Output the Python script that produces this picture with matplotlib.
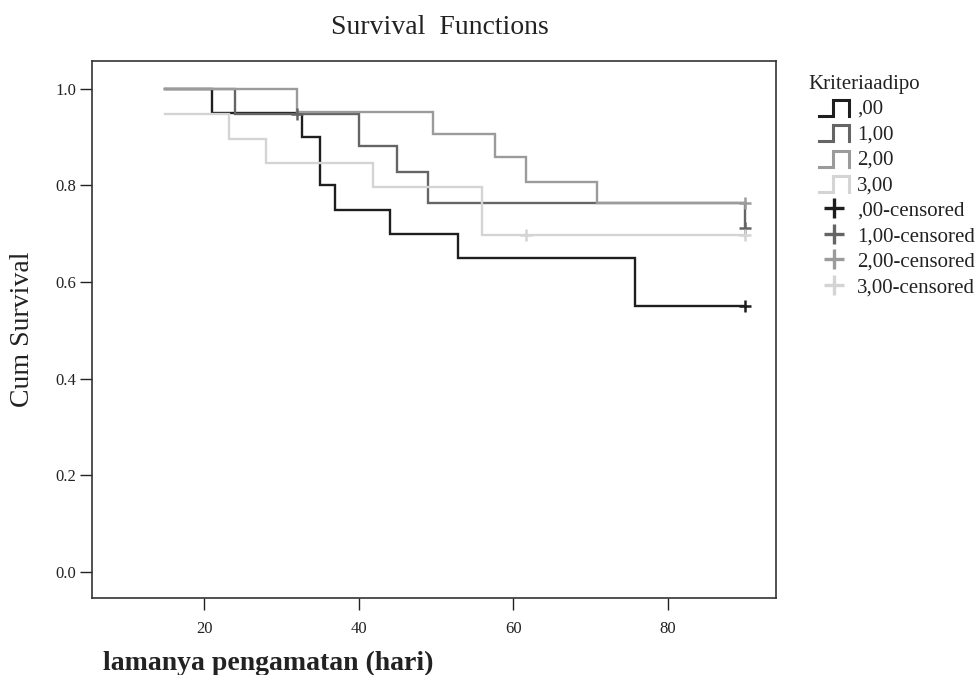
import matplotlib
matplotlib.use("Agg")
import matplotlib.pyplot as plt
from matplotlib.lines import Line2D
from matplotlib.legend_handler import HandlerBase

plt.rcParams['font.family'] = ['Liberation Serif', 'DejaVu Serif']

# ---- data ----
group_labels = [",00", "1,00", "2,00", "3,00"]
censor_labels = [",00-censored", "1,00-censored", "2,00-censored", "3,00-censored"]

g0_times = [15, 21, 32.7, 35, 37, 44, 52.8, 75.8, 90]
g0_surv = [1.0, 0.95, 0.90, 0.80, 0.75, 0.70, 0.65, 0.55, 0.55]
g0_cens_t = [90]
g0_cens_s = [0.55]

g1_times = [15, 24, 40, 45, 49, 90]
g1_surv = [1.0, 0.948, 0.881, 0.828, 0.763, 0.711]
g1_cens_t = [32, 90]
g1_cens_s = [0.948, 0.711]

g2_times = [15, 32, 49.6, 57.6, 61.6, 70.8, 90]
g2_surv = [1.0, 0.952, 0.906, 0.859, 0.807, 0.763, 0.763]
g2_cens_t = [90]
g2_cens_s = [0.763]

g3_times = [15, 23.2, 28, 41.8, 55.9, 90]
g3_surv = [0.947, 0.896, 0.846, 0.797, 0.697, 0.697]
g3_cens_t = [61.7, 90]
g3_cens_s = [0.697, 0.697]

x_ticks = [20, 40, 60, 80]
y_ticks = [0.0, 0.2, 0.4, 0.6, 0.8, 1.0]

colors = ['#1e1e1e', '#656565', '#9b9b9b', '#d4d4d4']

fig = plt.figure(figsize=(9.8, 6.75), dpi=100)
ax = fig.add_axes([0.0939, 0.1141, 0.6979, 0.7960])

series = [(g0_times, g0_surv, g0_cens_t, g0_cens_s),
          (g1_times, g1_surv, g1_cens_t, g1_cens_s),
          (g2_times, g2_surv, g2_cens_t, g2_cens_s),
          (g3_times, g3_surv, g3_cens_t, g3_cens_s)]

for (t, s, ct, cs), c in zip(series, colors):
    ax.step(t, s, where='post', color=c, lw=1.7, solid_joinstyle='miter')
for (t, s, ct, cs), c in zip(series, colors):
    ax.plot(ct, cs, linestyle='none', marker='+', color=c, ms=9, mew=1.8)

ax.set_xlim(5.5, 94)
ax.set_ylim(-0.054, 1.058)
ax.set_xticks(x_ticks)
ax.set_xticklabels([str(v) for v in x_ticks])
ax.set_yticks(y_ticks)
ax.set_yticklabels([f"{v:.1f}" for v in y_ticks])
ax.tick_params(axis='both', direction='out', length=8.6, width=1.0, color='#222222',
               labelsize=12, labelcolor='#222222')
ax.tick_params(axis='y', pad=2.5)
ax.tick_params(axis='x', pad=8)
for sp in ax.spines.values():
    sp.set_color('#333333')
    sp.set_linewidth(1.2)

fig.text(0.449, 0.960, "Survival  Functions", ha='center', va='center', fontsize=20, color='#222222')
ax.set_ylabel("Cum Survival", fontsize=20, color='#222222')
ax.yaxis.set_label_coords(-0.084, 0.5)
fig.text(0.105, 0.008, "lamanya pengamatan (hari)", ha='left', va='baseline', fontsize=20,
         fontweight='bold', color='#222222')


class StepHandler(HandlerBase):
    def create_artists(self, legend, orig_handle, xdescent, ydescent, width, height, fontsize, trans):
        x0 = -xdescent
        y0 = -ydescent - 0.1 * height
        w = width
        h = height * 1.05
        xs = [x0, x0 + 0.46 * w, x0 + 0.46 * w, x0 + w, x0 + w]
        ys = [y0, y0, y0 + h, y0 + h, y0]
        ln = Line2D(xs, ys, color=orig_handle.get_color(), lw=2.2, solid_joinstyle='miter')
        ln.set_transform(trans)
        return [ln]


handles = []
labels = []
for c, lab in zip(colors, group_labels):
    handles.append(Line2D([], [], color=c))
    labels.append(lab)
for c, lab in zip(colors, censor_labels):
    handles.append(Line2D([], [], color=c, linestyle='none', marker='+', ms=15, mew=2.4))
    labels.append(lab)

handler_map = {h: StepHandler() for h in handles[:4]}
fig.text(0.8245, 0.8755, "Kriteriaadipo", ha='left', va='center', fontsize=15, color='#222222')
leg = fig.legend(handles, labels, handler_map=handler_map, loc='upper left',
                 bbox_to_anchor=(0.8357, 0.8535), frameon=False, fontsize=15,
                 handlelength=1.44, handletextpad=0.38, labelspacing=0.27,
                 borderpad=0.0, borderaxespad=0.0, handleheight=0.75)
for txt in leg.get_texts():
    txt.set_color('#222222')

fig.savefig("out.png", dpi=100)
